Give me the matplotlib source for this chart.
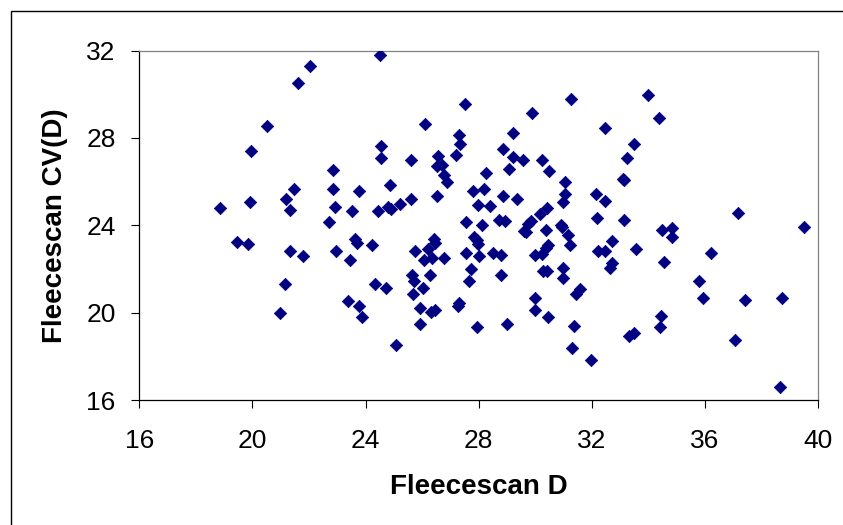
import matplotlib.pyplot as plt
from matplotlib.patches import Rectangle

# Fleecescan D (x) vs Fleecescan CV(D) (y)
fleecescan_d = [
    18.85, 19.45, 19.85, 19.90, 19.96, 20.51, 20.99, 21.14, 21.20, 21.33,
    21.33, 21.48, 21.61, 21.80, 22.05, 22.72, 22.85, 22.85, 22.91, 22.97,
    23.38, 23.46, 23.52, 23.61, 23.69, 23.77, 23.77, 23.88, 24.24, 24.32,
    24.43, 24.51, 24.56, 24.56, 24.72, 24.79, 24.87, 24.89, 25.06, 25.23,
    25.61, 25.61, 25.65, 25.67, 25.73, 25.76, 25.92, 25.92, 26.03, 26.05,
    26.09, 26.20, 26.28, 26.30, 26.34, 26.41, 26.47, 26.47, 26.53, 26.53,
    26.56, 26.70, 26.77, 26.79, 26.89, 27.21, 27.27, 27.31, 27.31, 27.33,
    27.50, 27.57, 27.55, 27.65, 27.74, 27.80, 27.84, 27.93, 27.93, 27.99,
    27.99, 28.01, 28.12, 28.18, 28.26, 28.41, 28.52, 28.71, 28.79, 28.79,
    28.85, 28.85, 28.94, 29.02, 29.09, 29.21, 29.23, 29.34, 29.57, 29.61,
    29.67, 29.76, 29.84, 29.89, 29.99, 29.99, 29.99, 30.18, 30.24, 30.24,
    30.27, 30.37, 30.39, 30.43, 30.43, 30.45, 30.46, 30.50, 30.92, 30.94,
    30.98, 30.98, 31.00, 31.04, 31.06, 31.17, 31.23, 31.28, 31.30, 31.36,
    31.45, 31.57, 31.97, 32.14, 32.20, 32.22, 32.47, 32.47, 32.47, 32.64,
    32.70, 32.71, 33.09, 33.13, 33.13, 33.26, 33.32, 33.51, 33.51, 33.57,
    34.00, 34.37, 34.42, 34.46, 34.50, 34.56, 34.84, 34.84, 35.79, 35.95,
    36.21, 37.07, 37.18, 37.41, 38.65, 38.71, 39.51,
]
fleecescan_cv = [
    24.79, 23.23, 23.13, 25.05, 27.40, 28.53, 19.96, 21.31, 25.22, 24.71,
    22.81, 25.66, 30.50, 22.57, 31.31, 24.16, 26.54, 25.66, 24.85, 22.81,
    20.53, 22.43, 24.64, 23.39, 23.19, 25.59, 20.30, 19.79, 23.10, 21.31,
    24.64, 31.79, 27.63, 27.09, 21.14, 24.85, 25.83, 24.73, 18.53, 24.97,
    26.99, 25.20, 21.72, 20.83, 21.45, 22.81, 20.22, 19.48, 21.14, 22.43,
    28.63, 22.90, 21.72, 20.03, 22.49, 23.39, 20.10, 23.18, 26.72, 25.36,
    27.19, 26.75, 22.49, 26.32, 25.97, 27.23, 20.30, 20.43, 28.12, 27.70,
    29.55, 24.16, 22.72, 21.45, 21.98, 25.59, 23.47, 23.32, 19.33, 23.16,
    24.94, 22.57, 24.01, 25.66, 26.39, 24.87, 22.72, 24.25, 22.64, 21.72,
    27.51, 25.36, 24.18, 19.48, 26.58, 28.23, 27.12, 25.20, 26.99, 23.75,
    23.67, 24.05, 24.18, 29.16, 20.68, 20.10, 22.64, 24.51, 26.99, 22.70,
    21.91, 23.78, 22.98, 24.79, 21.91, 19.79, 23.09, 26.48, 24.02, 23.90,
    22.03, 21.57, 25.05, 25.43, 25.97, 23.56, 23.10, 29.78, 18.38, 19.41,
    20.83, 21.06, 17.83, 25.43, 24.33, 22.83, 22.80, 25.13, 28.43, 22.03,
    22.29, 23.29, 26.12, 26.05, 24.25, 27.09, 18.95, 19.07, 27.74, 22.90,
    29.96, 28.93, 19.33, 19.84, 23.78, 22.34, 23.87, 23.44, 21.45, 20.68,
    22.72, 18.76, 24.56, 20.57, 16.61, 20.68, 23.90,
]
ticks_x = [16, 20, 24, 28, 32, 36, 40]
ticks_y = [16, 20, 24, 28, 32]

plt.rcParams['font.family'] = ['Liberation Sans', 'DejaVu Sans']

fig = plt.figure(figsize=(8.43, 5.25), dpi=100)
W, H = 843, 525

# marco exterior del grafico
fig.patches.append(Rectangle((10.5 / W, -0.05), 1.1, 1 - 10.5 / H + 0.05,
                             transform=fig.transFigure, fill=False,
                             edgecolor='black', linewidth=1))

ax = fig.add_axes([139.3 / W, 1 - 400 / H, (818 - 139.3) / W, (400 - 50.5) / H])
ax.scatter(fleecescan_d, fleecescan_cv, marker='D', s=40, color='#000080',
           edgecolors='#000080', linewidths=0.5, zorder=3)

ax.set_xlim(16, 40)
ax.set_ylim(16, 32)
ax.set_xticks(ticks_x)
ax.set_yticks(ticks_y)
ax.tick_params(axis='both', direction='out', length=6, width=0.8, labelsize=19,
               color='black')
ax.tick_params(axis='x', pad=15)
ax.tick_params(axis='y', pad=11)

ax.spines['left'].set_color('black')
ax.spines['bottom'].set_color('black')
ax.spines['top'].set_color('#808080')
ax.spines['right'].set_color('#808080')
for s in ax.spines.values():
    s.set_linewidth(0.9)

ax.set_xlabel('Fleecescan D', fontsize=20, fontweight='bold', va='center')
ax.xaxis.set_label_coords(0.5, (400 - 487) / 349.5)
ax.set_ylabel('Fleecescan CV(D)', fontsize=20, fontweight='bold', va='center')
ax.yaxis.set_label_coords((55 - 139.3) / 678.7, 0.5)

fig.savefig('out.png', dpi=100)
